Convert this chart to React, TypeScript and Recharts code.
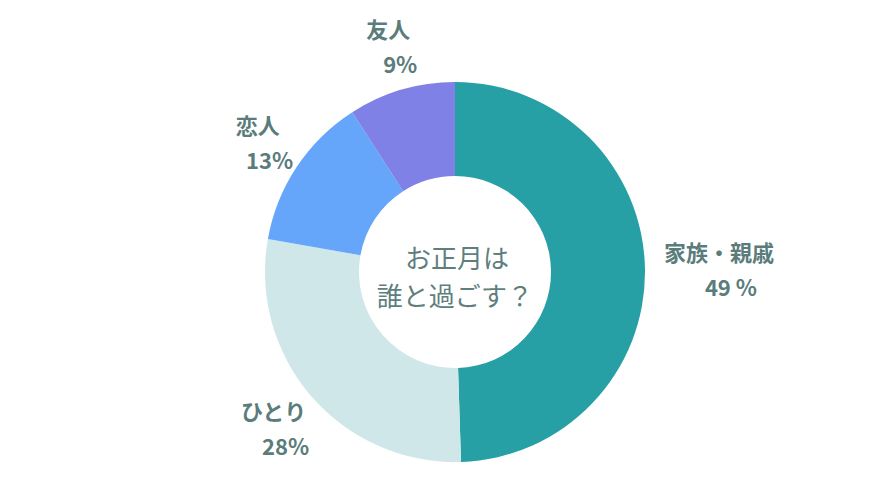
import { PieChart, Pie, Cell } from "recharts";

const names = ["家族・親戚", "ひとり", "恋人", "友人"];
const shares = [49, 28, 13, 9];
const shareLabels = ["49 %", "28%", "13%", "9%"];
const colors = ["#26A0A4", "#D0E7E9", "#66A6FA", "#8081E6"];

const data = names.map((name, i) => ({ name, value: shares[i], label: shareLabels[i] }));

const RAD = Math.PI / 180;
const labelColor = "#5A7C7B";
const font = "'Noto Sans CJK JP', 'Noto Sans', sans-serif";

function renderLabel(props: any) {
  const { cx, cy, midAngle, outerRadius, index } = props;
  const entry = data[index];
  const cos = Math.cos(-midAngle * RAD);
  const sin = Math.sin(-midAngle * RAD);
  const nameWidth = entry.name.length * 24;
  const r = outerRadius + 47;
  const x = cx + r * cos + (cos * Math.max(0, nameWidth - 66)) / 2;
  const y = cy + r * sin;
  return (
    <g>
      <text
        x={x}
        y={y - 17}
        textAnchor="middle"
        dominantBaseline="central"
        fill={labelColor}
        fontSize={22}
        fontWeight={700}
        fontFamily={font}
      >
        {entry.name}
      </text>
      <text
        x={x + 12}
        y={y + 18}
        textAnchor="middle"
        dominantBaseline="central"
        fill={labelColor}
        fontSize={22}
        fontWeight={700}
        fontFamily={font}
      >
        {entry.label}
      </text>
    </g>
  );
}

export default function App() {
  return (
    <div style={{ width: 864, height: 464, background: "#ffffff", overflow: "hidden" }}>
      <PieChart width={864} height={464} margin={{ top: 0, right: 0, bottom: 0, left: 0 }}>
        <Pie
          data={data}
          dataKey="value"
          cx={447}
          cy={264}
          innerRadius={96}
          outerRadius={190}
          startAngle={90}
          endAngle={-270}
          stroke="none"
          label={renderLabel}
          labelLine={false}
          isAnimationActive={false}
        >
          {data.map((d, i) => (
            <Cell key={d.name} fill={colors[i]} />
          ))}
        </Pie>
        <text
          x={449}
          y={248}
          textAnchor="middle"
          dominantBaseline="central"
          fill="#5F7F7E"
          fontSize={26}
          fontFamily={font}
        >
          お正月は
        </text>
        <text
          x={447}
          y={286}
          textAnchor="middle"
          dominantBaseline="central"
          fill="#5F7F7E"
          fontSize={26}
          fontFamily={font}
        >
          誰と過ごす？
        </text>
      </PieChart>
    </div>
  );
}
